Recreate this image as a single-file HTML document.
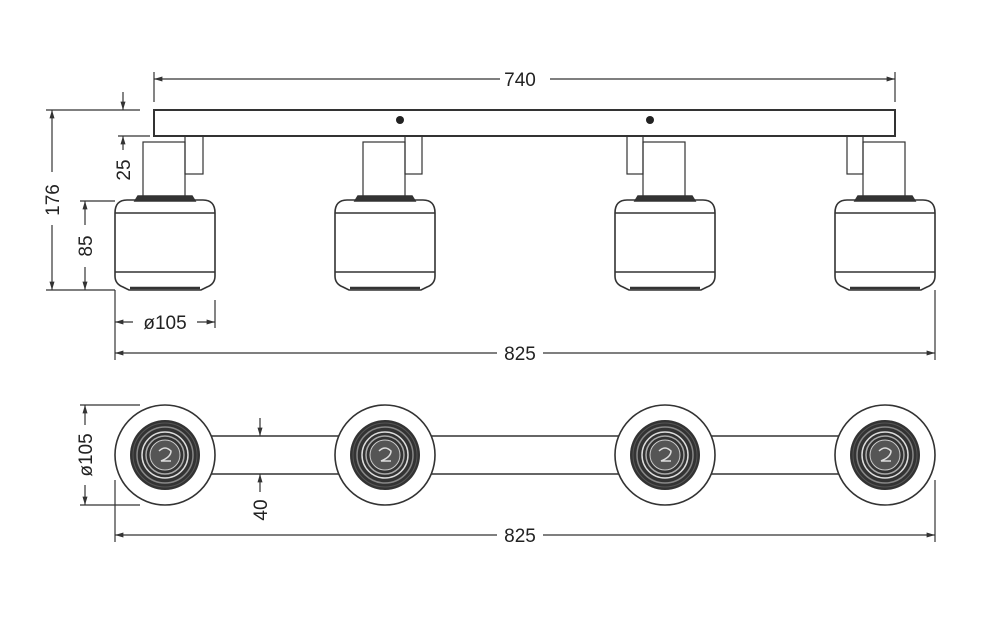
<!DOCTYPE html>
<html><head><meta charset="utf-8"><style>
html,body{margin:0;padding:0;background:#fff;width:1000px;height:640px;overflow:hidden}
text{font-family:"Liberation Sans",sans-serif;font-size:19px;fill:#222}
</style></head><body>
<svg width="1000" height="640" viewBox="0 0 1000 640" xmlns="http://www.w3.org/2000/svg">
<defs>
<marker id="a" viewBox="0 0 10 10" refX="10" refY="5" markerWidth="7" markerHeight="7" orient="auto-start-reverse"><path d="M0,2 L10,5 L0,8z" fill="#333"/></marker>
<g id="shade" fill="none" stroke="#333" stroke-width="1.6">
<path d="M-38,200 L38,200 Q50,200 50,213 L50,276 Q50,284 42,287 L36,290 L-36,290 L-42,287 Q-50,284 -50,276 L-50,213 Q-50,200 -38,200Z" fill="#fff"/>
<path d="M-27,196 L27,196 L30,201 L-30,201Z" fill="#333"/>
<line x1="-50" y1="213" x2="50" y2="213"/>
<line x1="-50" y1="272" x2="50" y2="272"/>
<line x1="-35" y1="288" x2="35" y2="288" stroke-width="2.5"/>
</g>
<g id="top" stroke="#333" fill="none">
<circle r="50" stroke-width="1.6" fill="#fff"/>
<circle r="35" fill="#333" stroke="none"/>
<circle r="32" stroke="#555" stroke-width="1"/>
<circle r="28" stroke="#888" stroke-width="1.5"/>
<circle r="23" stroke="#ddd" stroke-width="1.5"/>
<circle r="19" stroke="#aaa" stroke-width="1.5"/>
<circle r="15" fill="#555" stroke="#ccc" stroke-width="1"/>
<path d="M-6,-4 Q0,-10 6,-4 Q6,2 -4,6 L6,6" stroke="#ddd" stroke-width="1.5"/>
</g>
</defs>
<g stroke="#333" stroke-width="1.2" fill="none">
<line x1="154" y1="72" x2="154" y2="102"/><line x1="895" y1="72" x2="895" y2="102"/>
<line x1="154" y1="79" x2="500" y2="79" marker-start="url(#a)"/>
<line x1="550" y1="79" x2="895" y2="79" marker-end="url(#a)"/>
<rect x="154" y="110" width="741" height="26" stroke-width="2" fill="#fff"/>
<rect x="143" y="142" width="42" height="55"/><rect x="185" y="136" width="18" height="38"/>
<rect x="363" y="142" width="42" height="55"/><rect x="405" y="136" width="17" height="38"/>
<rect x="643" y="142" width="42" height="55"/><rect x="627" y="136" width="16" height="38"/>
<rect x="863" y="142" width="42" height="55"/><rect x="847" y="136" width="16" height="38"/>
</g>
<circle cx="400" cy="120" r="4" fill="#222"/><circle cx="650" cy="120" r="4" fill="#222"/>
<use href="#shade" x="165"/><use href="#shade" x="385"/><use href="#shade" x="665"/><use href="#shade" x="885"/>
<g stroke="#333" stroke-width="1.2" fill="none">
<line x1="46" y1="110" x2="140" y2="110"/><line x1="46" y1="290" x2="115" y2="290"/>
<line x1="52" y1="110" x2="52" y2="172" marker-start="url(#a)"/>
<line x1="52" y1="225" x2="52" y2="290" marker-end="url(#a)"/>
<line x1="123" y1="92" x2="123" y2="110" marker-end="url(#a)"/>
<line x1="118" y1="136" x2="150" y2="136"/>
<line x1="123" y1="136" x2="123" y2="150" marker-start="url(#a)"/>
<line x1="80" y1="201" x2="115" y2="201"/>
<line x1="85" y1="201" x2="85" y2="225" marker-start="url(#a)"/>
<line x1="85" y1="267" x2="85" y2="290" marker-end="url(#a)"/>
<line x1="115" y1="290" x2="115" y2="360"/><line x1="215" y1="300" x2="215" y2="328"/>
<line x1="115" y1="322" x2="133" y2="322" marker-start="url(#a)"/>
<line x1="197" y1="322" x2="215" y2="322" marker-end="url(#a)"/>
<line x1="935" y1="290" x2="935" y2="360"/>
<line x1="115" y1="353" x2="497" y2="353" marker-start="url(#a)"/>
<line x1="543" y1="353" x2="935" y2="353" marker-end="url(#a)"/>
<line x1="165" y1="436" x2="885" y2="436" stroke-width="1.6"/>
<line x1="165" y1="474" x2="885" y2="474" stroke-width="1.6"/>
</g>
<use href="#top" x="165" y="455"/><use href="#top" x="385" y="455"/><use href="#top" x="665" y="455"/><use href="#top" x="885" y="455"/>
<g stroke="#333" stroke-width="1.2" fill="none">
<line x1="80" y1="405" x2="140" y2="405"/><line x1="80" y1="505" x2="140" y2="505"/>
<line x1="85" y1="405" x2="85" y2="425" marker-start="url(#a)"/>
<line x1="85" y1="485" x2="85" y2="505" marker-end="url(#a)"/>
<line x1="260" y1="418" x2="260" y2="436" marker-end="url(#a)"/>
<line x1="260" y1="492" x2="260" y2="474" marker-end="url(#a)"/>
<line x1="115" y1="480" x2="115" y2="542"/><line x1="935" y1="480" x2="935" y2="542"/>
<line x1="115" y1="535" x2="497" y2="535" marker-start="url(#a)"/>
<line x1="543" y1="535" x2="935" y2="535" marker-end="url(#a)"/>
</g>
<text x="520" y="86" text-anchor="middle">740</text>
<text x="520" y="360" text-anchor="middle">825</text>
<text x="520" y="542" text-anchor="middle">825</text>
<text x="165" y="329" text-anchor="middle">ø105</text>
<text transform="translate(59,200) rotate(-90)" text-anchor="middle">176</text>
<text transform="translate(92,246) rotate(-90)" text-anchor="middle">85</text>
<text transform="translate(130,170) rotate(-90)" text-anchor="middle">25</text>
<text transform="translate(92,455) rotate(-90)" text-anchor="middle">ø105</text>
<text transform="translate(267,510) rotate(-90)" text-anchor="middle">40</text>
</svg>
</body></html>
